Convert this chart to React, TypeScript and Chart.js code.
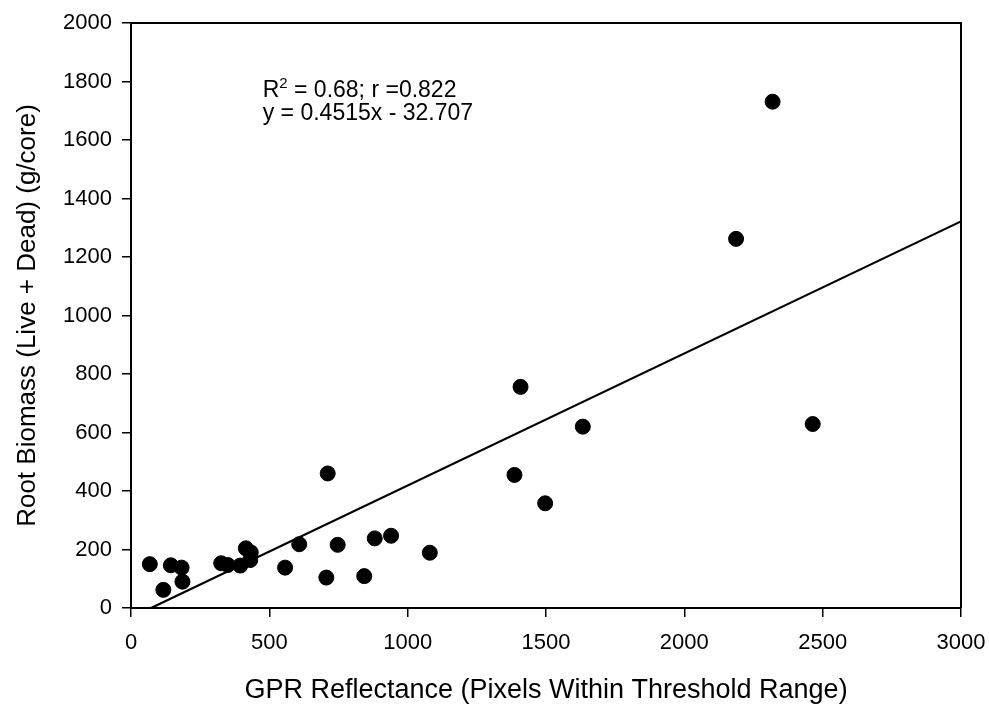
import React, { useEffect, useRef } from "react";
import { Chart, registerables } from "chart.js";

Chart.register(...registerables);

// GPR reflectance (pixels within threshold range)
const gprX = [68, 117, 144, 183, 186, 326, 350, 395, 415, 433, 431, 557, 608, 711, 706, 747, 843, 881, 940, 1080, 1386, 1408, 1497, 1633, 2187, 2319, 2464];
// Root biomass (live + dead), g/core
const biomassY = [150, 62, 146, 138, 90, 153, 147, 145, 204, 190, 164, 138, 218, 460, 104, 216, 109, 238, 247, 189, 455, 756, 358, 620, 1262, 1731, 629];

const slope = 0.4515;
const intercept = -32.707;
const xMin = 0;
const xMax = 3000;
const yMin = 0;
const yMax = 2000;

// annotation: first line is "R" + superscript "2" + rest
const annotationR = "R";
const annotationSup = "2";
const annotationRest = " = 0.68; r =0.822";
const annotationLine2 = "y = 0.4515x - 32.707";
const annotationAnchorX = 476;
const annotationAnchorY = [1747, 1668];

const xTitle = "GPR Reflectance (Pixels Within Threshold Range)";
const yTitle = "Root Biomass (Live + Dead) (g/core)";

const FONT = "'Liberation Sans', Arial, Helvetica, sans-serif";

export default function App() {
  const ref = useRef<HTMLCanvasElement | null>(null);

  useEffect(() => {
    if (!ref.current) return;
    const points = gprX.map((x, i) => ({ x, y: biomassY[i] }));
    const lineStart = -intercept / slope;
    const trend = [
      { x: lineStart, y: slope * lineStart + intercept },
      { x: xMax, y: slope * xMax + intercept },
    ];

    const boxPlugin = {
      id: "boxAndText",
      afterDraw(chart: any) {
        const { ctx, chartArea, scales } = chart;
        ctx.save();
        ctx.strokeStyle = "#000";
        ctx.lineWidth = 2;
        ctx.beginPath();
        ctx.moveTo(chartArea.left, chartArea.top);
        ctx.lineTo(chartArea.right, chartArea.top);
        ctx.lineTo(chartArea.right, chartArea.bottom);
        ctx.stroke();
        ctx.fillStyle = "#000";
        ctx.textBaseline = "alphabetic";
        ctx.textAlign = "left";
        const x0 = scales.x.getPixelForValue(annotationAnchorX);
        const y1 = scales.y.getPixelForValue(annotationAnchorY[0]);
        const y2 = scales.y.getPixelForValue(annotationAnchorY[1]);
        ctx.font = `23px ${FONT}`;
        ctx.fillText(annotationR, x0, y1);
        let x = x0 + ctx.measureText(annotationR).width;
        ctx.font = `15px ${FONT}`;
        ctx.fillText(annotationSup, x, y1 - 9);
        x += ctx.measureText(annotationSup).width;
        ctx.font = `23px ${FONT}`;
        ctx.fillText(annotationRest, x, y1);
        ctx.fillText(annotationLine2, x0, y2);
        ctx.restore();
      },
    };

    const chart = new Chart(ref.current, {
      type: "scatter",
      data: {
        datasets: [
          {
            type: "line",
            data: trend,
            borderColor: "#000",
            borderWidth: 2.2,
            pointRadius: 0,
            fill: false,
          },
          {
            type: "scatter",
            data: points,
            backgroundColor: "#000",
            borderColor: "#000",
            pointRadius: 7.5,
            pointHoverRadius: 7.5,
          },
        ],
      },
      options: {
        responsive: false,
        animation: false,
        events: [],
        layout: { padding: { top: 23, right: 28, left: 0, bottom: 0 } },
        plugins: {
          legend: { display: false },
          tooltip: { enabled: false },
        },
        scales: {
          x: {
            type: "linear",
            min: xMin,
            max: xMax,
            afterFit: (s: any) => {
              s.height = 99;
              s.paddingLeft = 0;
              s.paddingRight = 0;
            },
            ticks: {
              stepSize: 500,
              color: "#000",
              padding: 13,
              maxRotation: 0,
              font: { family: FONT, size: 22 },
              callback: (v: any) => String(v),
            },
            grid: {
              drawOnChartArea: false,
              drawTicks: true,
              tickLength: 9,
              color: "#000",
              lineWidth: 1.5,
            },
            border: { display: true, color: "#000", width: 2 },
            title: {
              display: true,
              text: xTitle,
              color: "#000",
              font: { family: FONT, size: 27 },
              padding: { top: 0, bottom: 0 },
            },
          },
          y: {
            type: "linear",
            min: yMin,
            max: yMax,
            afterFit: (s: any) => {
              s.width = 131;
              s.paddingTop = 0;
              s.paddingBottom = 0;
            },
            ticks: {
              stepSize: 200,
              color: "#000",
              padding: 10,
              font: { family: FONT, size: 22 },
              callback: (v: any) => String(v),
            },
            grid: {
              drawOnChartArea: false,
              drawTicks: true,
              tickLength: 9,
              color: "#000",
              lineWidth: 1.5,
            },
            border: { display: true, color: "#000", width: 2 },
            title: {
              display: true,
              text: yTitle,
              color: "#000",
              font: { family: FONT, size: 26 },
              padding: { top: 12, bottom: 0 },
            },
          },
        },
      },
      plugins: [boxPlugin],
    });
    return () => chart.destroy();
  }, []);

  return (
    <div style={{ position: "absolute", left: 0, top: 0, width: 989, height: 707, background: "#fff" }}>
      <canvas ref={ref} width={989} height={707} style={{ display: "block", width: 989, height: 707 }} />
    </div>
  );
}
